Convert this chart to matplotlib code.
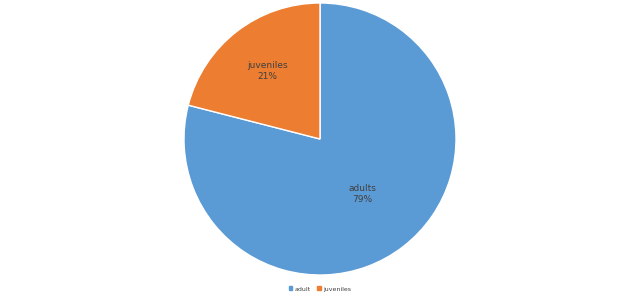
import numpy as np
import matplotlib.pyplot as plt
from matplotlib.patches import Patch

categories = ["adults", "juveniles"]
legend_names = ["adult", "juveniles"]
values = [79, 21]
colors = ["#5B9BD5", "#ED7D31"]
text_color = "#404040"

fig = plt.figure(figsize=(6.4, 2.96), dpi=100)
r_px = 136
cx, cy = 320, 296 - 139
ax = fig.add_axes([(cx - r_px) / 640, (cy - r_px) / 296, 2 * r_px / 640, 2 * r_px / 296])

wedges, _ = ax.pie(values, colors=colors, startangle=90, counterclock=False,
                   wedgeprops=dict(edgecolor="white", linewidth=1.0), radius=1)
ax.set_xlim(-1, 1)
ax.set_ylim(-1, 1)
ax.set_aspect("equal")

# label positions (fraction of radius), Excel-style best fit
dist = [0.51, 0.63]
for w, name, v, d in zip(wedges, categories, values, dist):
    ang = np.deg2rad((w.theta1 + w.theta2) / 2)
    ax.text(d * np.cos(ang), d * np.sin(ang), f"{name}\n{v}%", ha="center", va="center",
            fontsize=6.5, color=text_color, family="DejaVu Sans", linespacing=1.3)

handles = [Patch(color=c) for c in colors]
fig.legend(handles, legend_names, loc="center", bbox_to_anchor=(0.5, 1 - 289 / 296),
           ncol=2, frameon=False, fontsize=4.5, handlelength=0.6, handleheight=0.6,
           handletextpad=0.4, columnspacing=1.0, labelcolor=text_color)

fig.savefig("out.png", dpi=100)
